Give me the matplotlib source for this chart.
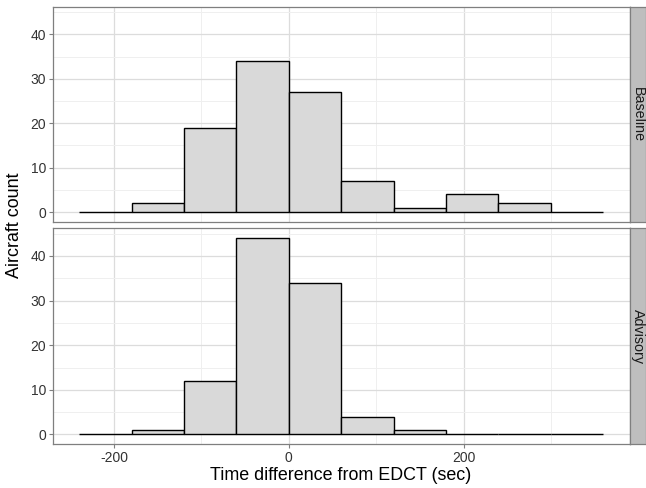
import numpy as np
import matplotlib
matplotlib.use("Agg")
from matplotlib import pyplot as plt

plt.rcParams['font.family'] = ['Liberation Sans', 'DejaVu Sans']
plt.rcParams['axes.unicode_minus'] = False

# histogram bins (sec) and counts per panel
bin_edges = [-240, -180, -120, -60, 0, 60, 120, 180, 240, 300, 360]
panels = ["Baseline", "Advisory"]
baseline_counts = [0, 2, 19, 34, 27, 7, 1, 4, 2, 0]
advisory_counts = [0, 1, 12, 44, 34, 4, 1, 0, 0, 0]
x_ticks = [-200, 0, 200]
y_ticks = [0, 10, 20, 30, 40]

W, H = 646, 488
fig = plt.figure(figsize=(W / 100, H / 100), dpi=100)

def px_axes(l, t, r, b):
    return fig.add_axes([l / W, 1 - b / H, (r - l) / W, (b - t) / H])

edges = np.array(bin_edges, dtype=float)
widths = np.diff(edges)
lefts = edges[:-1]
ymax = max(max(baseline_counts), max(advisory_counts))
span = edges[-1] - edges[0]
xlim = (edges[0] - 0.05 * span, edges[-1] + 0.05 * span)
ylim = (-0.05 * ymax, ymax * 1.05)

rows = [(6.7, 222.0), (228.3, 444.3)]
for i, (name, counts) in enumerate(zip(panels, [baseline_counts, advisory_counts])):
    top, bot = rows[i]
    ax = px_axes(53, top, 629.5, bot)
    ax.set_xticks(x_ticks)
    ax.set_xticks([-100, 100, 300], minor=True)
    ax.set_yticks(y_ticks)
    ax.set_yticks([5, 15, 25, 35, 45], minor=True)
    ax.grid(True, which='major', color='#dcdcdc', lw=0.9)
    ax.grid(True, which='minor', color='#efefef', lw=0.7)
    ax.set_axisbelow(True)
    ax.tick_params(which='minor', length=0)
    ax.tick_params(which='major', length=3, color='#7f7f7f', width=0.8,
                   labelsize=10, labelcolor='#333333', pad=2)
    for s in ax.spines.values():
        s.set_color('#7f7f7f')
        s.set_linewidth(0.9)
    ax.bar(lefts, counts, width=widths, align='edge', color='#d9d9d9',
           edgecolor='black', linewidth=1.0, zorder=3)
    ax.set_xlim(*xlim)
    ax.set_ylim(*ylim)
    if i == 0:
        ax.tick_params(axis='x', labelbottom=False, length=0)

    # facet strip on the right
    sax = px_axes(630, top, 646, bot)
    sax.set_xticks([])
    sax.set_yticks([])
    sax.set_facecolor('#bebebe')
    for s in sax.spines.values():
        s.set_color('#7f7f7f')
        s.set_linewidth(0.9)
    sax.text(0.5, 0.5, name, rotation=-90, ha='center', va='center',
             fontsize=10.3, color='#1a1a1a', transform=sax.transAxes)

fig.text(341 / W, 1 - 476 / H, "Time difference from EDCT (sec)", ha='center', va='center', fontsize=12.9)
fig.text(15 / W, 1 - 225 / H, "Aircraft count", ha='center', va='center', rotation=90, fontsize=12.9)

fig.savefig("out.png", dpi=100)
